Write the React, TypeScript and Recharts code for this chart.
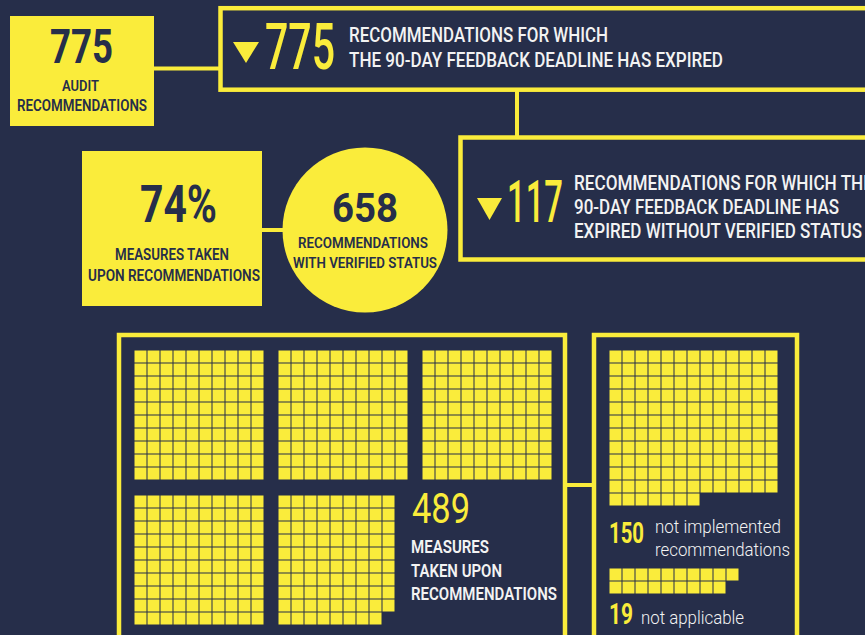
import { ScatterChart, Scatter, XAxis, YAxis } from 'recharts';

const NAVY = '#262e4a';
const YELLOW = '#faec3b';
const WHITE = '#f3f3f3';
const FONT = 'Roboto, "Liberation Sans", sans-serif';

// waffle data: one square per recommendation / measure
const measureBlocks = [100, 100, 100, 100, 89];
const measureCols = [10, 10, 10, 10, 9];
const measureRows = [10, 10, 10, 10, 10];
const notImplemented = 150;
const notApplicable = 19;

const headline = ['775', '775', '117', '74%', '658'];

type Cell = { c: number; r: number };

function cells(count: number, cols: number): Cell[] {
  const out: Cell[] = [];
  for (let i = 0; i < count; i++) out.push({ c: (i % cols) + 0.5, r: Math.floor(i / cols) + 0.5 });
  return out;
}

const Square = (props: any) => {
  const { cx, cy } = props;
  return <rect x={cx - 6} y={cy - 6} width={12} height={12} fill={YELLOW} />;
};

function Waffle({ count, cols, rows, left, top }: { count: number; cols: number; rows: number; left: number; top: number }) {
  return (
    <div style={{ position: 'absolute', left, top }}>
      <ScatterChart width={cols * 13} height={rows * 13} margin={{ top: 0, right: 0, bottom: 0, left: 0 }}>
        <XAxis type="number" dataKey="c" domain={[0, cols]} hide />
        <YAxis type="number" dataKey="r" domain={[0, rows]} reversed hide />
        <Scatter data={cells(count, cols)} shape={<Square />} isAnimationActive={false} />
      </ScatterChart>
    </div>
  );
}

function T({ x, y, s, w, fill = WHITE, weight = 700, anchor = 'start', children }: any) {
  return (
    <text
      x={x}
      y={y}
      fontSize={s}
      fontWeight={weight}
      fill={fill}
      textAnchor={anchor}
      fontFamily={FONT}
      textLength={w}
      lengthAdjust="spacingAndGlyphs"
    >
      {children}
    </text>
  );
}

const blockPos = [
  [134, 350],
  [278, 350],
  [422, 350],
  [134, 495],
  [278, 495],
];

export default function App() {
  return (
    <div style={{ position: 'relative', width: 865, height: 635, background: NAVY, overflow: 'hidden' }}>
      <style>{'body{margin:0}'}</style>

      {measureBlocks.map((n, i) => (
        <Waffle key={i} count={n} cols={measureCols[i]} rows={measureRows[i]} left={blockPos[i][0]} top={blockPos[i][1]} />
      ))}
      <Waffle count={notImplemented} cols={13} rows={12} left={609} top={350} />
      <Waffle count={notApplicable} cols={10} rows={2} left={609} top={568} />

      <svg width={865} height={635} style={{ position: 'absolute', left: 0, top: 0 }}>
        {/* top row */}
        <rect x={10} y={16} width={144} height={110} fill={YELLOW} />
        <line x1={154} y1={68.5} x2={220} y2={68.5} stroke={YELLOW} strokeWidth={4} />
        <rect x={220.5} y={8.2} width={700} height={81.5} fill="none" stroke={YELLOW} strokeWidth={4.5} />
        <line x1={517} y1={90} x2={517} y2={137} stroke={YELLOW} strokeWidth={4} />
        <rect x={460.5} y={137.5} width={500} height={122} fill="none" stroke={YELLOW} strokeWidth={4.5} />
        <polygon points="233,42 259,42 246,63" fill={YELLOW} />
        <polygon points="477,198 502,198 489.5,220" fill={YELLOW} />

        <T x={50} y={63} s={49} w={63} fill={NAVY}>{headline[0]}</T>
        <T x={80.5} y={91} s={15.5} w={37} fill={NAVY} weight={600} anchor="middle">AUDIT</T>
        <T x={82} y={111} s={16} w={130} fill={NAVY} weight={600} anchor="middle">RECOMMENDATIONS</T>

        <T x={265} y={69} s={64} w={70} fill={YELLOW} weight={500}>{headline[1]}</T>
        <T x={349} y={42} s={21} w={259} weight={500}>RECOMMENDATIONS FOR WHICH</T>
        <T x={349} y={67} s={21} w={374} weight={500}>THE 90-DAY FEEDBACK DEADLINE HAS EXPIRED</T>

        <T x={507} y={222} s={60} w={56} fill={YELLOW} weight={500}>{headline[2]}</T>
        <T x={574} y={190} s={21} w={299} weight={500}>RECOMMENDATIONS FOR WHICH THE</T>
        <T x={574} y={214} s={21} w={265} weight={500}>90-DAY FEEDBACK DEADLINE HAS</T>
        <T x={574} y={238} s={21} w={288} weight={500}>EXPIRED WITHOUT VERIFIED STATUS</T>

        {/* middle row */}
        <rect x={82} y={151} width={180} height={155} fill={YELLOW} />
        <line x1={262} y1={230} x2={285} y2={230} stroke={YELLOW} strokeWidth={4} />
        <circle cx={365} cy={230} r={82.5} fill={YELLOW} />
        <T x={140} y={222} s={52} w={77} fill={NAVY}>{headline[3]}</T>
        <T x={172} y={260} s={16.5} w={114} fill={NAVY} weight={600} anchor="middle">MEASURES TAKEN</T>
        <T x={174} y={281} s={16.5} w={172} fill={NAVY} weight={600} anchor="middle">UPON RECOMMENDATIONS</T>
        <T x={332} y={222} s={41} w={66} fill={NAVY}>{headline[4]}</T>
        <T x={363} y={248} s={15.5} w={130} fill={NAVY} weight={600} anchor="middle">RECOMMENDATIONS</T>
        <T x={365} y={268} s={15.5} w={144} fill={NAVY} weight={600} anchor="middle">WITH VERIFIED STATUS</T>

        {/* bottom frames */}
        <path d="M119,660 L119,335 L565,335 L565,660" fill="none" stroke={YELLOW} strokeWidth={4.5} />
        <path d="M594,660 L594,335 L797,335 L797,660" fill="none" stroke={YELLOW} strokeWidth={4.5} />
        <line x1={565} y1={485} x2={594} y2={485} stroke={YELLOW} strokeWidth={4} />

        <T x={412} y={523} s={42} w={58} fill={YELLOW} weight={400}>489</T>
        <T x={411} y={553} s={18} w={78} weight={600}>MEASURES</T>
        <T x={411} y={577} s={18} w={91} weight={600}>TAKEN UPON</T>
        <T x={411} y={600} s={18} w={146} weight={600}>RECOMMENDATIONS</T>

        <T x={609} y={543} s={29} w={35} fill={YELLOW}>150</T>
        <T x={655} y={533} s={18} w={126} weight={300}>not implemented</T>
        <T x={655} y={556} s={18} w={135} weight={300}>recommendations</T>
        <T x={609} y={624} s={29} w={24} fill={YELLOW}>19</T>
        <T x={641} y={624} s={18} w={103} weight={300}>not applicable</T>
      </svg>
    </div>
  );
}
